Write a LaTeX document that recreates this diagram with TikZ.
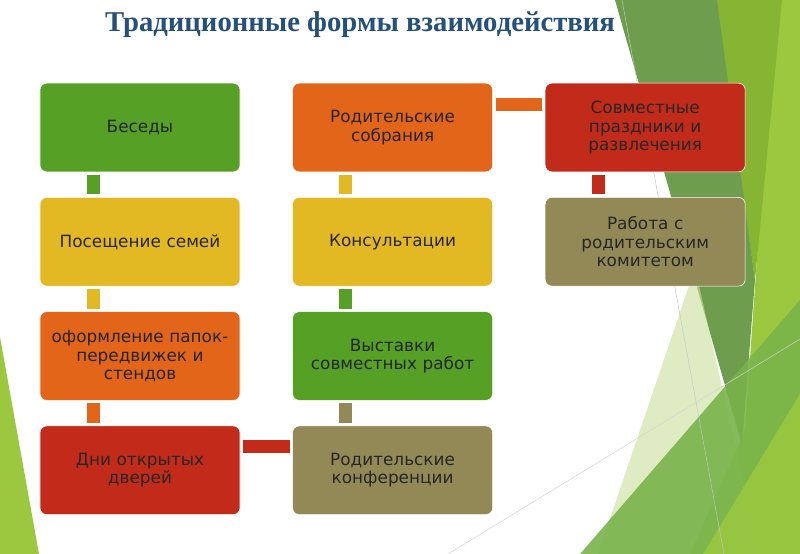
\documentclass[tikz,border=0pt]{standalone}
\usepackage{fontspec}
\setmainfont{Liberation Serif}
\newfontfamily\boxfont{DejaVu Sans}
\usetikzlibrary{positioning}
\definecolor{grn}{HTML}{55A025}
\definecolor{ylw}{HTML}{E2B823}
\definecolor{orn}{HTML}{E26519}
\definecolor{rd}{HTML}{C22B1A}
\definecolor{olv}{HTML}{938957}
\definecolor{txt}{HTML}{262626}
\definecolor{ttl}{HTML}{24507A}
\definecolor{facetA}{HTML}{6E9E4D}
\definecolor{facetB}{HTML}{86B534}
\definecolor{facetC}{HTML}{9BC83F}
\definecolor{facetD}{HTML}{C9E09B}
\definecolor{facetE}{HTML}{79B34A}

\begin{document}
\begin{tikzpicture}[x=0.03cm,y=-0.03cm,
		box/.style={
			draw=white,
			line width=0.5pt,
			fill=#1,
			rounded corners=0.2cm,
			minimum width=6cm,
			minimum height=2.66cm,
			text width=5.6cm,
			align=center,
			inner sep=0pt,
			text=txt,
			font=\boxfont\fontsize{14.4}{15.8}\selectfont,
		},
		link/.style={line width=0.39cm, draw=#1, shorten <=0.08cm, shorten >=0.08cm},
		node distance=0.75cm and 1.56cm]
		\useasboundingbox (0,0) rectangle (800,554);
		
		% background facets
		\fill[facetC] (775,0) -- (800,0) -- (800,554) -- (690,554) -- (745,430) -- cycle;
		\fill[facetB] (715,0) -- (782,0) -- (755,280) -- cycle;
		\fill[facetA] (615,0) -- (717,0) -- (755,280) -- (742,445) -- cycle;
		\fill[facetD, opacity=0.6] (695,268) -- (760,554) -- (598,554) -- cycle;
		\fill[facetE, opacity=0.9] (580,554) -- (800,300) -- (800,554) -- cycle;
		\fill[facetC, opacity=0.85] (703,554) -- (800,394) -- (800,554) -- cycle;
		\fill[facetC] (0,337) -- (39,554) -- (0,554) -- cycle;
		\draw[gray!45, line width=0.4pt] (622,0) -- (724,554);
		\draw[gray!35, line width=0.4pt] (448,554) -- (800,339);
		
		\node[font=\bfseries\fontsize{24.5}{28}\selectfont, text=ttl] (title) at (360,25) {Традиционные формы взаимодействия};
		
		\node[box=grn] (besedy) at (140,127.5) {Беседы};
		\node[box=ylw, below=of besedy] (semi) {Посещение семей};
		\node[box=orn, below=of semi] (papki) {оформление папок-\\передвижек и\\стендов};
		\node[box=rd, below=of papki] (dni) {Дни открытых\\дверей};
		\node[box=olv, right=of dni] (konf) {Родительские\\конференции};
		\node[box=grn, above=of konf] (vyst) {Выставки\\совместных работ};
		\node[box=ylw, above=of vyst] (kons) {Консультации};
		\node[box=orn, above=of kons] (sobr) {Родительские\\собрания};
		\node[box=rd, right=of sobr] (prazd) {Совместные\\праздники и\\развлечения};
		\node[box=olv, below=of prazd] (komitet) {Работа с\\родительским\\комитетом};
		
		\draw[link=grn] ([xshift=1.6cm]besedy.south west) -- ([xshift=1.6cm]semi.north west);
		\draw[link=ylw] ([xshift=1.6cm]semi.south west) -- ([xshift=1.6cm]papki.north west);
		\draw[link=orn] ([xshift=1.6cm]papki.south west) -- ([xshift=1.6cm]dni.north west);
		\draw[link=rd] ([yshift=-0.64cm]dni.north east) -- ([yshift=-0.64cm]konf.north west);
		\draw[link=olv] ([xshift=1.6cm]konf.north west) -- ([xshift=1.6cm]vyst.south west);
		\draw[link=grn] ([xshift=1.6cm]vyst.north west) -- ([xshift=1.6cm]kons.south west);
		\draw[link=ylw] ([xshift=1.6cm]kons.north west) -- ([xshift=1.6cm]sobr.south west);
		\draw[link=orn] ([yshift=-0.64cm]sobr.north east) -- ([yshift=-0.64cm]prazd.north west);
		\draw[link=rd] ([xshift=1.6cm]prazd.south west) -- ([xshift=1.6cm]komitet.north west);
	\end{tikzpicture}
\end{document}
